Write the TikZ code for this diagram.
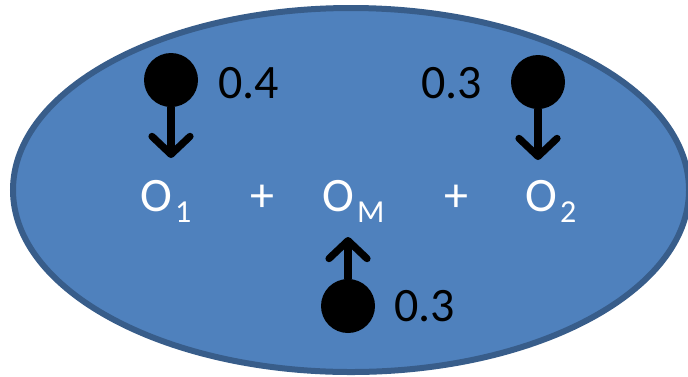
\documentclass[tikz,border=0pt]{standalone}
\usepackage{fontspec}
\setmainfont{Carlito}
\usetikzlibrary{arrows.meta}
\definecolor{cellblue}{HTML}{4F81BD}
\definecolor{celledge}{HTML}{385D8A}
\newcommand{\osub}[1]{O\kern1.5pt\raisebox{-5.5pt}{\fontsize{16}{16}\selectfont #1}}
\tikzset{
  arr/.style={line width=3.6pt, line cap=round,
    -{Straight Barb[length=9pt, width=19pt, line cap=round, line join=round]}},
}
\begin{document}
\begin{tikzpicture}[x=0.5pt, y=-0.5pt,
    every node/.style={font=\fontsize{24}{28}\selectfont, inner sep=0pt},
    ball/.style={circle, fill=black, minimum size=27pt},
    species/.style={anchor=base west, text=white},
    weight/.style={anchor=base west}]
    \useasboundingbox (0,0) rectangle (688,376);
    % cell
    \fill[cellblue, draw=celledge, line width=3pt] (351,190) ellipse [x radius=169pt, y radius=91pt];
    % species
    \node[species] (o1) at (140,211) {\osub{1}};
    \node[species] (om) at (322,211) {\osub{M}};
    \node[species] (o2) at (525,211) {\osub{2}};
    \node[anchor=base, text=white] (p1) at (262,211) {+};
    \node[anchor=base, text=white] (p2) at (456,211) {+};
    % weights
    \node[ball] (b1) at (171,80) {};
    \node[ball] (b2) at (538,82) {};
    \node[ball] (b3) at (348,306) {};
    \coordinate (t1) at (171,158);
    \coordinate (t2) at (538,160);
    \coordinate (t3) at (348,237);
    \draw[arr] (b1.south) -- (t1);
    \draw[arr] (b2.south) -- (t2);
    \draw[arr] (b3.north) -- (t3);
    \node[weight] (w1) at (218,98) {0.4};
    \node[weight] (w2) at (421,98) {0.3};
    \node[weight] (w3) at (394,321) {0.3};
\end{tikzpicture}
\end{document}
